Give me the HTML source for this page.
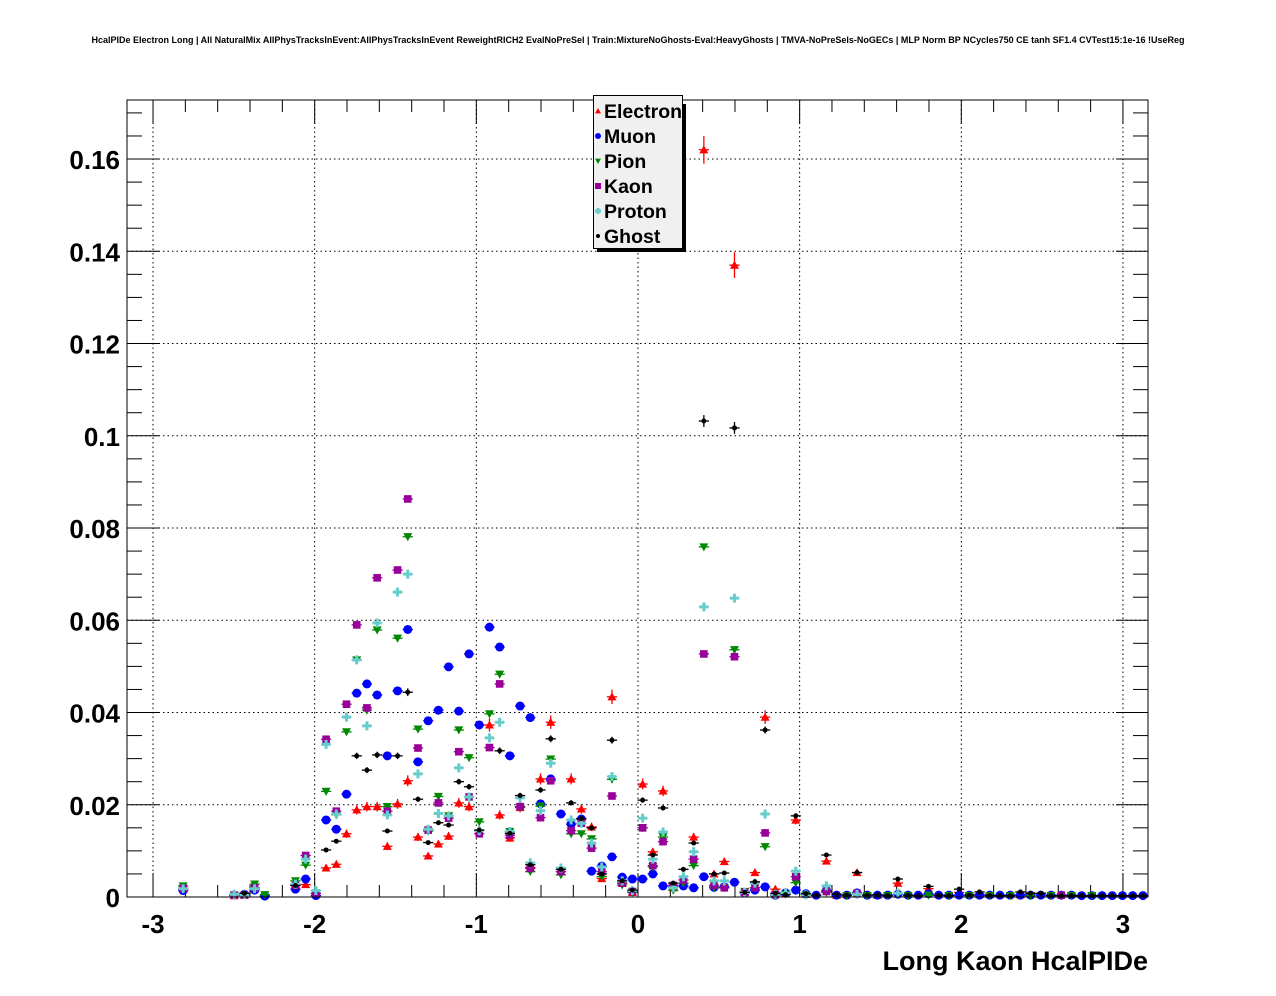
<!DOCTYPE html>
<html><head><meta charset="utf-8"><style>
html,body{margin:0;padding:0;background:#fff;}
svg{display:block;font-family:"Liberation Sans",Arial,sans-serif;}
</style></head><body>
<svg id="chart" width="1276" height="996" viewBox="0 0 1276 996" xmlns="http://www.w3.org/2000/svg">
<rect x="0" y="0" width="1276" height="996" fill="#fff"/>
<text x="638" y="43" font-size="9" font-weight="bold" text-anchor="middle">HcalPIDe Electron Long | All NaturalMix AllPhysTracksInEvent:AllPhysTracksInEvent ReweightRICH2 EvalNoPreSel | Train:MixtureNoGhosts-Eval:HeavyGhosts | TMVA-NoPreSels-NoGECs | MLP Norm BP NCycles750 CE tanh SF1.4 CVTest15:1e-16 !UseReg</text>
<g id="grid"></g>
<g id="axes"></g>
<g id="marks"></g>
<rect x="127" y="100" width="1021" height="797" fill="none" stroke="#000" stroke-width="1"/>
<text x="1148" y="970" font-size="27" font-weight="bold" text-anchor="end">Long Kaon HcalPIDe</text>
<g id="legend">
<rect x="597" y="104" width="89" height="148" fill="#000"/>
<rect x="593.5" y="95.5" width="89" height="153" fill="#f0f0f0" stroke="#000" stroke-width="1"/>
</g>
</svg>
<script>
// ---- data (bin indices of 100 bins over the x range, and fractions) ----
const xTickLabels = ["-3","-2","-1","0","1","2","3"];
const yTickLabels = ["0","0.02","0.04","0.06","0.08","0.1","0.12","0.14","0.16"];
const seriesNames = ["Electron","Muon","Pion","Kaon","Proton","Ghost"];

const electronBins = [5,10,11,12,16,17,19,20,21,22,23,24,25,26,27,28,29,30,31,32,33,34,35,36,37,38,39,40,41,42,43,44,45,46,47,48,49,50,51,52,53,54,55,56,57,58,59,60,61,62,63,64,65,66,68,69,71,73,75,78,81,83,87];
const electronVals = [0.0017,0.0003,0.0004,0.0018,0.0027,0.0027,0.0063,0.0071,0.0137,0.0189,0.0196,0.0196,0.011,0.0202,0.0252,0.013,0.0089,0.0115,0.0132,0.0204,0.0196,0.0145,0.0373,0.0178,0.0128,0.0194,0.0064,0.0256,0.0379,0.0055,0.0256,0.0191,0.0152,0.004,0.0434,0.003,0.001,0.0245,0.0098,0.023,0.002,0.003,0.013,0.162,0.005,0.0077,0.137,0.001,0.0053,0.039,0.0017,0.0008,0.0167,0.0006,0.0078,0.0004,0.0053,0.0004,0.003,0.0018,0.001,0.0006,0.0005];

const muonBins = [5,11,12,13,16,17,18,19,20,21,22,23,24,25,26,27,28,29,30,31,32,33,34,35,36,37,38,39,40,41,42,43,44,45,46,47,48,49,50,51,52,53,54,55,56,57,58,59,60,61,62,63,64,65,66,67,68,69,70,71,72,73,74,75,76,77,78,79,80,81,82,83,84,85,86,87,88,89,90,91,92,93,94,95,96,97,98,99];
const muonVals = [0.0014,0.0006,0.0015,0.0002,0.0017,0.0039,0.0003,0.0167,0.0147,0.0223,0.0442,0.0462,0.0438,0.0306,0.0447,0.058,0.0293,0.0382,0.0405,0.0499,0.0403,0.0527,0.0373,0.0585,0.0542,0.0306,0.0414,0.0389,0.0202,0.0256,0.018,0.0158,0.0169,0.0056,0.0067,0.0087,0.0043,0.0039,0.0039,0.005,0.0024,0.0024,0.0024,0.002,0.0044,0.0021,0.0022,0.0032,0.0009,0.0015,0.0022,0.0004,0.0009,0.0015,0.0007,0.0004,0.0014,0.0004,0.0004,0.0009,0.0004,0.0004,0.0004,0.0006,0.0004,0.0004,0.0007,0.0004,0.0004,0.0004,0.0004,0.0004,0.0004,0.0004,0.0004,0.0004,0.0004,0.0004,0.0004,0.0004,0.0004,0.0003,0.0003,0.0003,0.0003,0.0003,0.0003,0.0003];

const pionBins = [5,10,12,13,16,17,18,19,20,21,22,23,24,25,26,27,28,29,30,31,32,33,34,35,36,37,38,39,40,41,42,43,44,45,46,47,48,49,50,51,52,53,54,55,56,57,58,59,60,61,62,63,64,65,66,68,70,72,74,76,78,80,82,84,86,88,90,92,94];
const pionVals = [0.0024,0.0004,0.0028,0.0005,0.0035,0.0069,0.0008,0.0229,0.0178,0.0358,0.0514,0.0405,0.0579,0.0196,0.0561,0.0781,0.0364,0.0143,0.0218,0.0176,0.0362,0.0302,0.0163,0.0397,0.0483,0.0142,0.0194,0.0055,0.0197,0.0299,0.0048,0.0137,0.0137,0.0126,0.0044,0.0255,0.0026,0.001,0.015,0.0065,0.013,0.0015,0.003,0.0068,0.0759,0.002,0.002,0.0536,0.0012,0.002,0.0109,0.0004,0.0006,0.0031,0.0004,0.001,0.0003,0.0003,0.0003,0.0003,0.0004,0.0003,0.0003,0.0003,0.0003,0.0003,0.0003,0.0003,0.0003];

const kaonBins = [5,10,11,12,16,17,18,19,20,21,22,23,24,25,26,27,28,29,30,31,32,33,34,35,36,37,38,39,40,41,42,43,44,45,46,47,48,49,50,51,52,53,54,55,56,57,58,59,60,61,62,63,65,68,71,91];
const kaonVals = [0.0019,0.0004,0.0004,0.002,0.0025,0.009,0.0008,0.0342,0.0186,0.0418,0.059,0.041,0.0692,0.0186,0.0709,0.0863,0.0323,0.0145,0.0204,0.0171,0.0315,0.0217,0.0137,0.0324,0.0462,0.0134,0.0196,0.0062,0.0172,0.0252,0.0055,0.0144,0.016,0.0106,0.0055,0.0219,0.003,0.0012,0.015,0.0068,0.012,0.0025,0.0037,0.0082,0.0527,0.0025,0.002,0.0521,0.001,0.002,0.0139,0.0005,0.0044,0.0012,0.0008,0.0004];

const protonBins = [5,10,11,12,16,17,18,19,20,21,22,23,24,25,26,27,28,29,30,31,32,33,34,35,36,37,38,39,40,41,42,43,44,45,46,47,48,49,50,51,52,53,54,55,56,57,58,59,60,61,62,63,64,65,66,68,71,75];
const protonVals = [0.0018,0.0006,0.0005,0.0018,0.0028,0.0082,0.0014,0.0331,0.018,0.039,0.0514,0.0371,0.0594,0.0178,0.0661,0.07,0.0267,0.0147,0.0181,0.0176,0.028,0.0217,0.0144,0.0345,0.0379,0.0142,0.0215,0.0074,0.0187,0.029,0.0063,0.0167,0.016,0.0117,0.0065,0.0261,0.0035,0.0014,0.0171,0.0082,0.0141,0.002,0.0044,0.0098,0.0629,0.0035,0.0035,0.0648,0.001,0.003,0.018,0.0006,0.0008,0.0056,0.0005,0.0024,0.0006,0.0008];

const ghostBins = [11,16,19,20,22,23,24,25,26,27,28,29,30,31,32,33,34,36,37,38,39,40,41,42,43,44,45,46,47,48,49,50,51,52,53,54,55,56,57,58,59,60,61,62,63,64,65,66,67,68,69,70,71,72,73,74,75,76,77,78,79,80,81,82,83,84,85,86,87,88,89,90,91,92,93,94,95,96,97,98,99];
const ghostVals = [0.0008,0.0025,0.0102,0.0121,0.0306,0.0275,0.0308,0.0143,0.0306,0.0444,0.0212,0.0118,0.0161,0.0156,0.025,0.0239,0.0145,0.0317,0.0138,0.022,0.007,0.0232,0.0343,0.006,0.0204,0.017,0.015,0.005,0.034,0.0035,0.0015,0.021,0.0091,0.0193,0.003,0.006,0.0117,0.1032,0.005,0.0052,0.1017,0.001,0.0033,0.0362,0.0008,0.0005,0.0176,0.0007,0.0004,0.0091,0.0006,0.0004,0.0053,0.0004,0.0005,0.0003,0.0039,0.0004,0.0003,0.0023,0.0004,0.0003,0.0017,0.0004,0.0011,0.0003,0.0003,0.0003,0.0011,0.0008,0.0008,0.0003,0.0003,0.0003,0.0003,0.0003,0.0003,0.0003,0.0003,0.0003,0.0003];

// ---- layout ----
const NS = "http://www.w3.org/2000/svg";
const L = 127, R = 1148, T = 100, B = 897;
const XMIN = -3.161, XMAX = 3.155, YMIN = 0, YMAX = 0.1728;
const NBINS = 100;
function xs(v){ return L + (v - XMIN) / (XMAX - XMIN) * (R - L); }
function ys(v){ return B - (v - YMIN) / (YMAX - YMIN) * (B - T); }
function binCenter(i){ return XMIN + (i + 0.5) * (XMAX - XMIN) / NBINS; }
function mk(tag, attrs, parent){ const e = document.createElementNS(NS, tag); for (const k in attrs) e.setAttribute(k, attrs[k]); parent.appendChild(e); return e; }

const grid = document.getElementById('grid');
const axes = document.getElementById('axes');
const marks = document.getElementById('marks');

// x ticks & grid
xTickLabels.forEach(function(lab){
  const v = parseFloat(lab), x = xs(v);
  const g = mk('line', {x1:x, y1:T, x2:x, y2:B, stroke:'#000', 'stroke-width':1, 'stroke-dasharray':'1.5,3'}, grid);
  
  
  const t = mk('text', {x:x, y:933, 'font-size':26, 'font-weight':'bold', 'text-anchor':'middle'}, axes);
  t.textContent = lab;
  
  
});
for (let k = -16; k <= 16; k++){
  const v = k * 0.2; if (v < XMIN || v > XMAX) continue;
  const x = xs(v), major = (k % 5 === 0), len = major ? 24 : 12;
  const a = mk('line', {x1:x, y1:B, x2:x, y2:B - len, stroke:'#000', 'stroke-width':1}, axes);
  
  
  const b = mk('line', {x1:x, y1:T, x2:x, y2:T + len, stroke:'#000', 'stroke-width':1}, axes);
  
  
}
// y ticks & grid
yTickLabels.forEach(function(lab){
  const v = parseFloat(lab), y = ys(v);
  if (v > 0){
    const g = mk('line', {x1:L, y1:y, x2:R, y2:y, stroke:'#000', 'stroke-width':1, 'stroke-dasharray':'1.5,3'}, grid);
    
    
  }
  const t = mk('text', {x:120, y:y + 10, 'font-size':26, 'font-weight':'bold', 'text-anchor':'end'}, axes);
  t.textContent = lab;
  
  
});
for (let k = 0; k * 0.005 <= YMAX; k++){
  const y = ys(k * 0.005), major = (k % 4 === 0), len = major ? 32 : 15;
  const a = mk('line', {x1:L, y1:y, x2:L + len, y2:y, stroke:'#000', 'stroke-width':1}, axes);
  
  
  const b = mk('line', {x1:R, y1:y, x2:R - len, y2:y, stroke:'#000', 'stroke-width':1}, axes);
  
  
}

// markers
const colors = ['#ff0000','#0000ff','#008800','#990099','#66cccc','#000000'];
const errK = [0.0075, 0.002, 0.002, 0.002, 0.002, 0.004];
function marker(kind, cx, cy, s, parent, color){
  let e;
  if (kind === 0) e = mk('polygon', {points:(cx-s)+','+(cy+s*0.8)+' '+(cx+s)+','+(cy+s*0.8)+' '+cx+','+(cy-s)}, parent);
  else if (kind === 1) e = mk('circle', {cx:cx, cy:cy, r:s}, parent);
  else if (kind === 2) e = mk('polygon', {points:(cx-s)+','+(cy-s*0.8)+' '+(cx+s)+','+(cy-s*0.8)+' '+cx+','+(cy+s)}, parent);
  else if (kind === 3) e = mk('rect', {x:cx-s, y:cy-s, width:2*s, height:2*s}, parent);
  else if (kind === 4) e = mk('path', {d:'M'+(cx-s)+','+(cy-1.5)+'h'+(s-1.5)+'v-'+(s-1.5)+'h3v'+(s-1.5)+'h'+(s-1.5)+'v3h-'+(s-1.5)+'v'+(s-1.5)+'h-3v-'+(s-1.5)+'h-'+(s-1.5)+'z'}, parent);
  else e = mk('circle', {cx:cx, cy:cy, r:s}, parent);
  e.setAttribute('fill', color);
  return e;
}
const sizes = [4.5, 4.5, 4.5, 3.8, 4.5, 2.5];
const allBins = [electronBins, muonBins, pionBins, kaonBins, protonBins, ghostBins];
const allVals = [electronVals, muonVals, pionVals, kaonVals, protonVals, ghostVals];
const halfBin = (R - L) / NBINS / 2;
allBins.forEach(function(bins, s){
  const g = mk('g', {}, marks);
  
  
  bins.forEach(function(bi, j){
    const v = allVals[s][j];
    const cx = xs(binCenter(bi)), cy = ys(v);
    const err = errK[s] * Math.sqrt(v);
    const h = mk('line', {x1:cx - halfBin, y1:cy, x2:cx + halfBin, y2:cy, stroke:colors[s], 'stroke-width':1.3}, g);
    
    
    const vv = mk('line', {x1:cx, y1:ys(v + err), x2:cx, y2:ys(Math.max(0, v - err)), stroke:colors[s], 'stroke-width':1.3}, g);
    
    
    const m = marker(s, cx, cy, sizes[s], g, colors[s]);
    
    
  });
});

// legend
const leg = document.getElementById('legend');
seriesNames.forEach(function(name, s){
  const y = 111 + s * 25;
  const m = marker(s, 598, y, s === 5 ? 2 : 3, leg, colors[s]);
  
  
  const t = mk('text', {x:604, y:y + 7, 'font-size':19.5, 'font-weight':'bold'}, leg);
  t.textContent = name;
  
  
});
</script>
</body></html>
